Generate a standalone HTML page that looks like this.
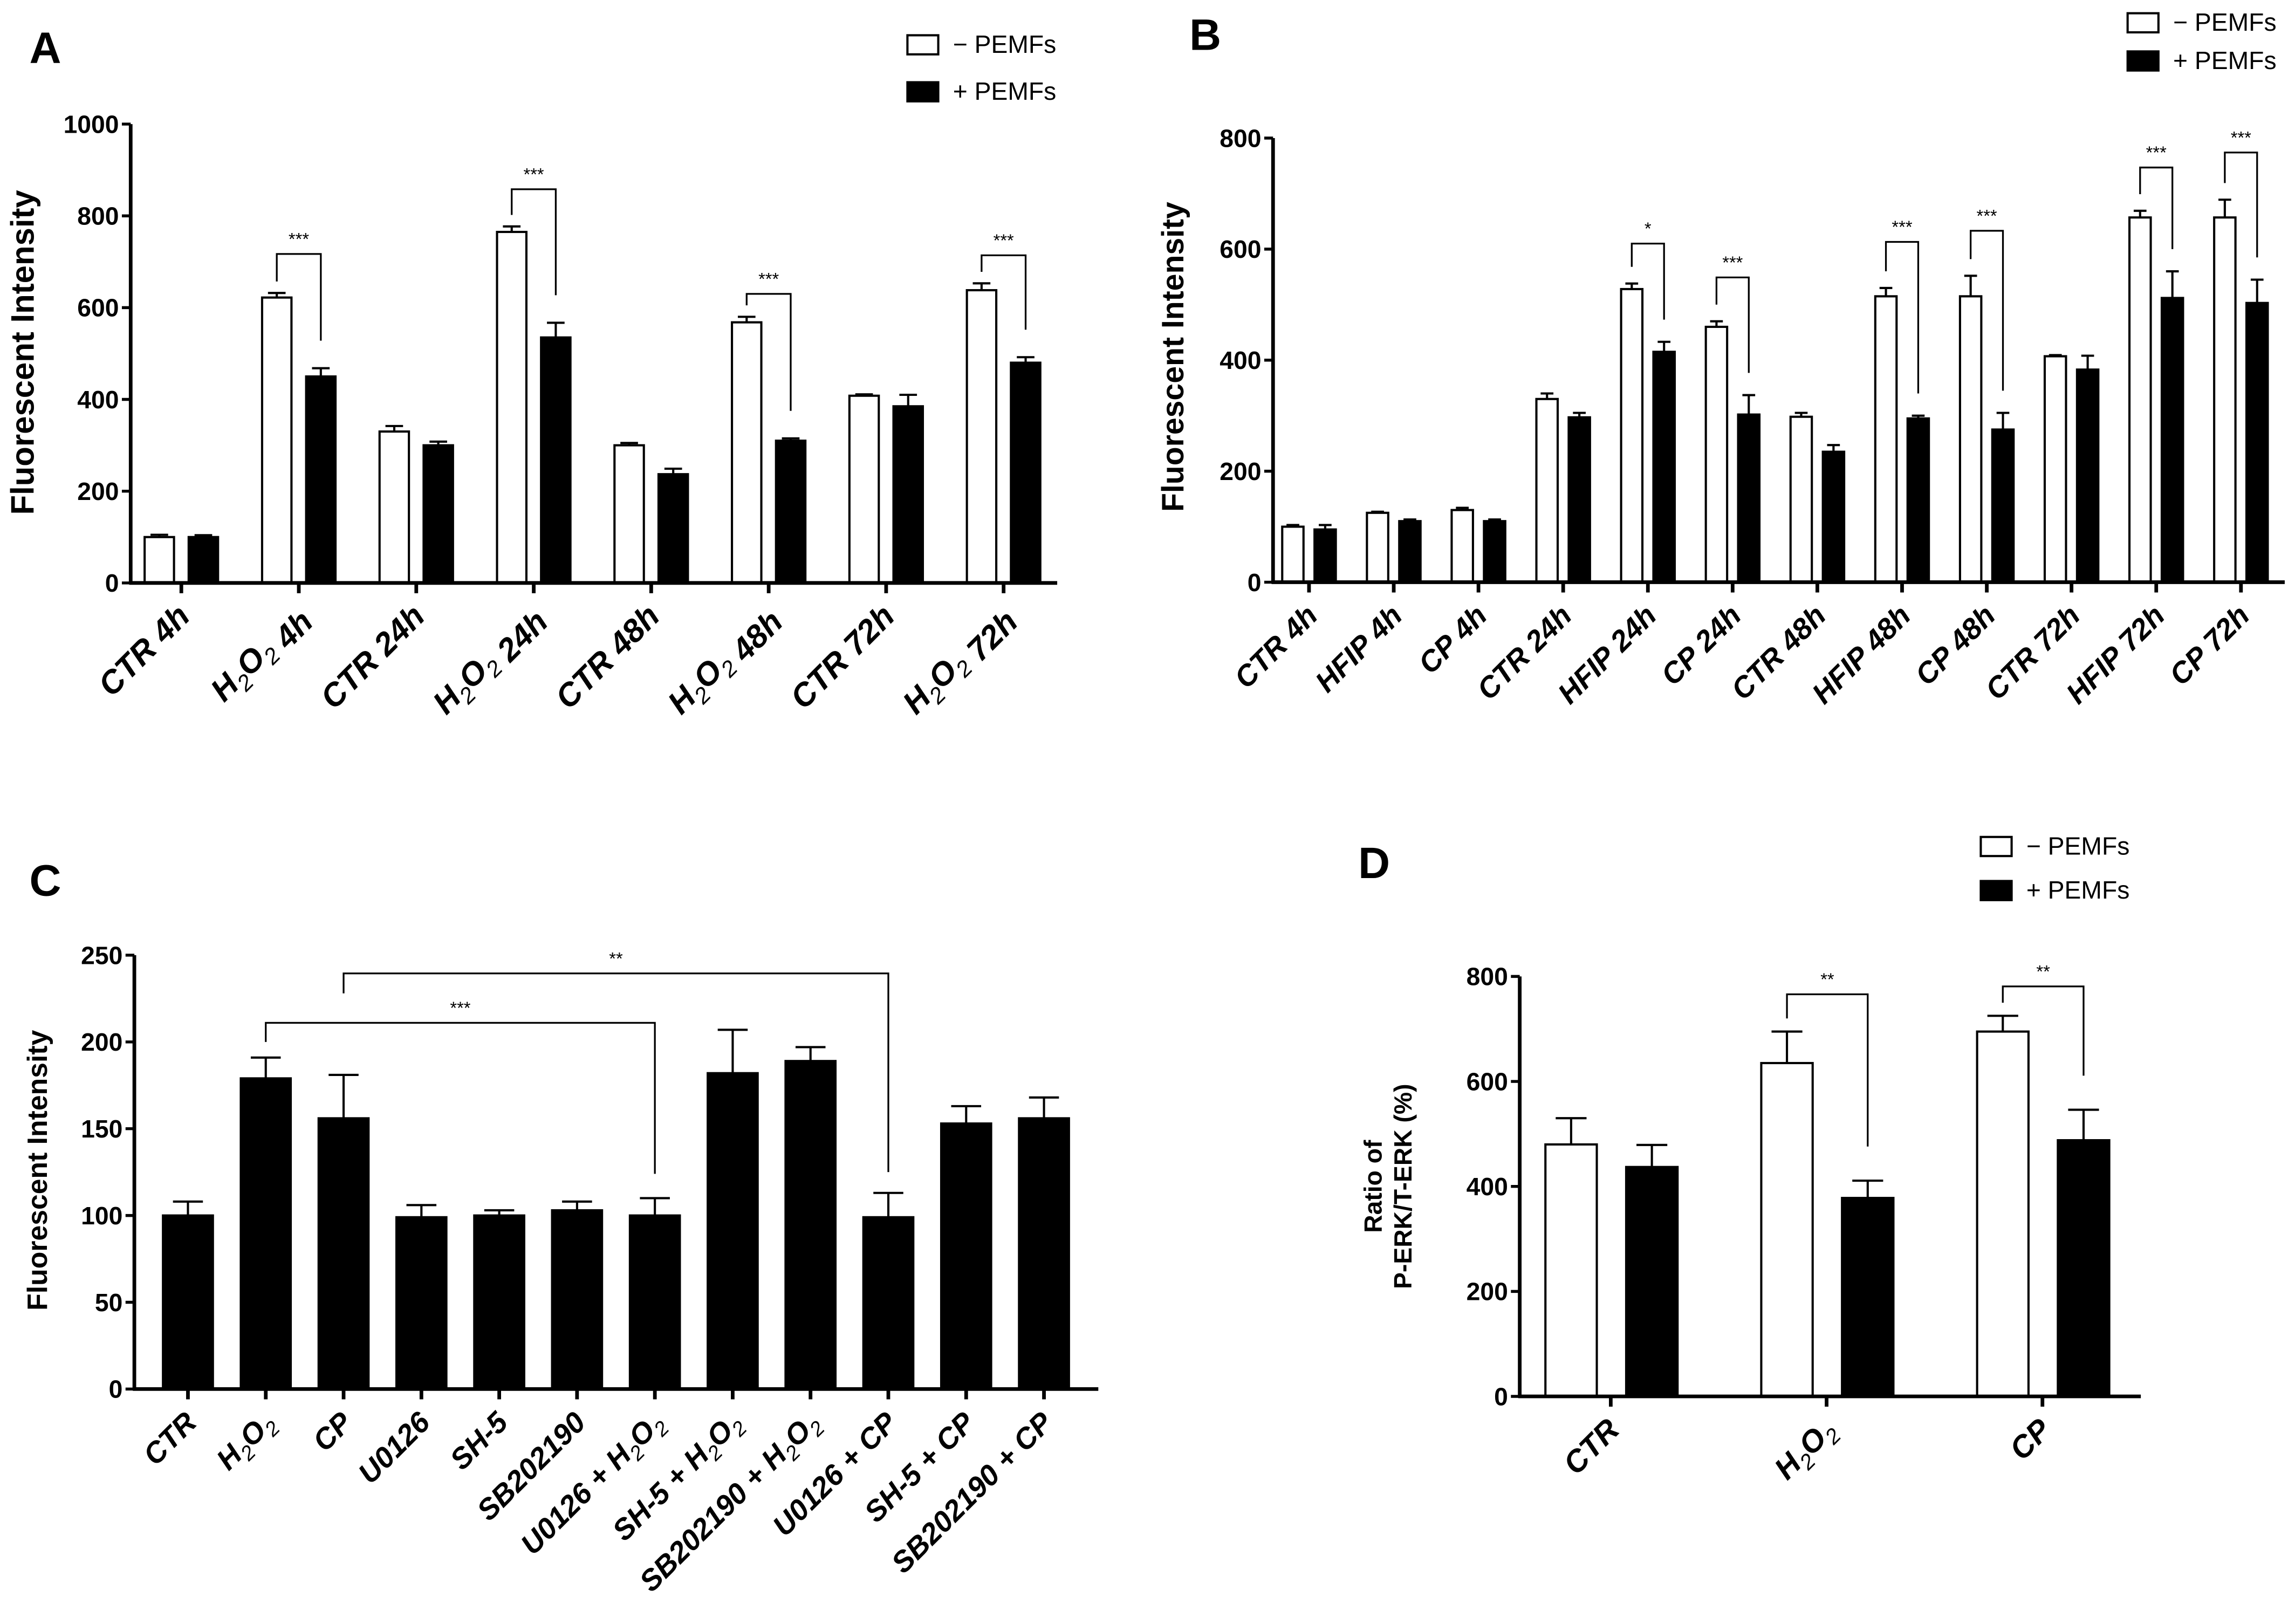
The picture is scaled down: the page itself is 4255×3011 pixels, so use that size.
<!DOCTYPE html>
<html><head><meta charset="utf-8"><style>
html,body{margin:0;padding:0;background:#fff;}
svg{display:block;font-family:"Liberation Sans",sans-serif;}
</style></head><body>
<svg id="fig" width="4255" height="3011" viewBox="0 0 1563 1106" xmlns="http://www.w3.org/2000/svg"></svg>
<script>
// Panel A data
const aCats = ["CTR 4h","H2O2 4h","CTR 24h","H2O2 24h","CTR 48h","H2O2 48h","CTR 72h","H2O2 72h"];
const aWhite = [100,622,330,765,300,568,408,638];
const aWhiteErr = [5,10,12,12,5,12,3,15];
const aBlack = [100,450,300,535,237,310,385,480];
const aBlackErr = [4,18,8,32,12,5,25,12];
const aTicks = [0,200,400,600,800,1000];
const aSigIdx = [1,3,5,7];
const aSigTop = [717,858,630,714];
const aSigLabel = ["***","***","***","***"];
// Panel B data
const bCats = ["CTR 4h","HFIP 4h","CP 4h","CTR 24h","HFIP 24h","CP 24h","CTR 48h","HFIP 48h","CP 48h","CTR 72h","HFIP 72h","CP 72h"];
const bWhite = [100,125,130,330,528,460,298,515,515,407,657,657];
const bWhiteErr = [3,2,4,10,10,10,7,15,37,2,12,32];
const bBlack = [95,110,110,297,415,302,235,295,275,383,512,503];
const bBlackErr = [8,3,3,8,18,35,12,5,30,25,48,42];
const bTicks = [0,200,400,600,800];
const bSigIdx = [4,5,7,8,10,11];
const bSigTop = [610,549,613,633,747,774];
const bSigLabel = ["*","***","***","***","***","***"];
// Panel C data
const cCats = ["CTR","H2O2","CP","U0126","SH-5","SB202190","U0126 + H2O2","SH-5 + H2O2","SB202190 + H2O2","U0126 + CP","SH-5 + CP","SB202190 + CP"];
const cVals = [100,179,156,99,100,103,100,182,189,99,153,156];
const cErr = [8,12,25,7,3,5,10,25,8,14,10,12];
const cTicks = [0,50,100,150,200,250];
const cSigFrom = [1,2];
const cSigTo = [6,9];
const cSigTop = [211,239.5];
const cSigLeftEnd = [200,228];
const cSigRightEnd = [124,125];
const cSigLabel = ["***","**"];
// Panel D data
const dCats = ["CTR","H2O2","CP"];
const dWhite = [480,635,695];
const dWhiteErr = [50,60,30];
const dBlack = [437,378,488];
const dBlackErr = [42,33,58];
const dTicks = [0,200,400,600,800];
const dSigIdx = [1,2];
const dSigTop = [766,781];
const dSigLabel = ["**","**"];

const NS="http://www.w3.org/2000/svg";
const svg=document.getElementById('fig');
function mk(tag,attrs,parent){const e=document.createElementNS(NS,tag);for(const k in attrs)e.setAttribute(k,attrs[k]);(parent||svg).appendChild(e);return e;}

function labelText(parent,x,y,str,size,anchor,rot,style){
  const t=mk('text',{x:x,y:y,'font-size':size,'font-weight':'bold','text-anchor':anchor||'end'},parent);
  if(style)t.setAttribute('font-style',style);
  if(rot)t.setAttribute('transform','rotate('+rot+' '+x+' '+y+')');
  const parts=str.split('H2O2');
  const d=size*0.25;
  parts.forEach((p,i)=>{
    if(p){const s=mk('tspan',{},t);s.textContent=p;}
    if(i<parts.length-1){
      let s=mk('tspan',{},t);s.textContent='H';
      s=mk('tspan',{dy:d,'font-size':size*0.7,'font-weight':'normal'},t);s.textContent='2';
      s=mk('tspan',{dy:-d},t);s.textContent='O';
      s=mk('tspan',{dy:d,'font-size':size*0.7,'font-weight':'normal'},t);s.textContent='2';
      s=mk('tspan',{dy:-d},t);s.textContent='';
    }
  });
  return t;
}

function axes(g,P,ticks,cats,pos){
  const ya=mk('line',{x1:P.x0,y1:P.y(ticks[ticks.length-1]),x2:P.x0,y2:P.y(0)+1,stroke:'#000','stroke-width':2.5},g);
  
  const xa=mk('line',{x1:P.x0-1,y1:P.y(0),x2:P.x1,y2:P.y(0),stroke:'#000','stroke-width':2.5},g);
  
  ticks.forEach(v=>{
    mk('line',{x1:P.x0-6,y1:P.y(v),x2:P.x0,y2:P.y(v),stroke:'#000','stroke-width':2},g);
    const t=mk('text',{x:P.x0-8,y:P.y(v)+6,'font-size':17,'font-weight':'bold','text-anchor':'end'},g);
    
    t.textContent=v;
  });
  cats.forEach((c,i)=>{
    const x=pos(i);
    mk('line',{x1:x,y1:P.y(0),x2:x,y2:P.y(0)+7,stroke:'#000','stroke-width':2.5},g);
    const t=labelText(g,x+7,P.y(0)+24,c,P.fs||17,'end',-45,'italic');
    
  });
}
function bar(g,x,w,P,v,err,fill,name){
  const r=mk('rect',{x:x-w/2,y:P.y(v),width:w,height:P.y(0)-P.y(v),fill:fill,stroke:'#000','stroke-width':1.5},g);
  
  mk('line',{x1:x,y1:P.y(v),x2:x,y2:P.y(v+err),stroke:'#000','stroke-width':1.5},g);
  mk('line',{x1:x-w*0.3,y1:P.y(v+err),x2:x+w*0.3,y2:P.y(v+err),stroke:'#000','stroke-width':1.5},g);
}
function bracket(g,xl,xr,yt,yl,yr,lab,fs){
  const p=mk('path',{d:`M${xl},${yl}V${yt}H${xr}V${yr}`,fill:'none',stroke:'#000','stroke-width':1.2},g);
  
  const t=mk('text',{x:(xl+xr)/2,y:yt-6,'font-size':fs||12,'text-anchor':'middle'},g);
  
  t.textContent=lab;
}
function panelLetter(g,x,y,s){const t=mk('text',{x:x,y:y,'font-size':30,'font-weight':'bold'},g);t.textContent=s;}
function legend(g,x,y1,y2,h){
  const items=[['#fff','− PEMFs',y1],['#000','+ PEMFs',y2]];
  items.forEach(it=>{
    const r=mk('rect',{x:x,y:it[2],width:21,height:h,fill:it[0],stroke:'#000','stroke-width':1.5},g);
    
    const t=mk('text',{x:x+31,y:it[2]+h-1,'font-size':17},g);
    
    t.textContent=it[1];
  });
}
function yTitle(g,x,y,lines,fs){
  const t=mk('text',{x:x,y:y,'font-size':fs,'font-weight':'bold','text-anchor':'middle',transform:`rotate(-90 ${x} ${y})`},g);
  
  lines.forEach((l,i)=>{const s=mk('tspan',{x:x,dy:i?fs*1.2:0},t);s.textContent=l;});
}

// Panel A
(function(){
  const g=mk('g',{});
  const P={x0:89,x1:720,y:v=>397-v*0.3125,fs:22};
  const pos=i=>123.5+80*i;
  panelLetter(g,20,43,'A');legend(g,618,24,56,13);
  yTitle(g,23,240,['Fluorescent Intensity'],22);
  aCats.forEach((c,i)=>{
    bar(g,pos(i)-15,20,P,aWhite[i],aWhiteErr[i],'#fff','bar-minus-pemfs');
    bar(g,pos(i)+15,20,P,aBlack[i],aBlackErr[i],'#000','bar-plus-pemfs');
  });
  axes(g,P,aTicks,aCats,pos);
  aSigIdx.forEach((k,j)=>{
    bracket(g,pos(k)-15,pos(k)+15,P.y(aSigTop[j]),P.y(aWhite[k]+aWhiteErr[k]+25),P.y(aBlack[k]+aBlackErr[k]+60),aSigLabel[j]);
  });
})();
// Panel B
(function(){
  const g=mk('g',{});
  const P={x0:867,x1:1556,y:v=>396.5-v*0.3781,fs:20};
  const pos=i=>891.5+57.7*i;
  panelLetter(g,810,34,'B');legend(g,1449,9,35,13);
  yTitle(g,806,243,['Fluorescent Intensity'],21);
  bCats.forEach((c,i)=>{
    bar(g,pos(i)-11,14.5,P,bWhite[i],bWhiteErr[i],'#fff','bar-minus-pemfs');
    bar(g,pos(i)+11,14.5,P,bBlack[i],bBlackErr[i],'#000','bar-plus-pemfs');
  });
  axes(g,P,bTicks,bCats,pos);
  bSigIdx.forEach((k,j)=>{
    bracket(g,pos(k)-11,pos(k)+11,P.y(bSigTop[j]),P.y(bWhite[k]+bWhiteErr[k]+30),P.y(bBlack[k]+bBlackErr[k]+40),bSigLabel[j]);
  });
})();
// Panel C
(function(){
  const g=mk('g',{});
  const P={x0:91.5,x1:748,y:v=>946-v*1.182,fs:20};
  const pos=i=>128+53*i;
  panelLetter(g,20,610,'C');
  yTitle(g,32,797,['Fluorescent Intensity'],19);
  cCats.forEach((c,i)=>bar(g,pos(i),34,P,cVals[i],cErr[i],'#000','bar-'+i));
  axes(g,P,cTicks,cCats,pos);
  cSigFrom.forEach((f,j)=>{
    bracket(g,pos(f),pos(cSigTo[j]),P.y(cSigTop[j]),P.y(cSigLeftEnd[j]),P.y(cSigRightEnd[j]),cSigLabel[j]);
  });
})();
// Panel D
(function(){
  const g=mk('g',{});
  const P={x0:1035,x1:1458,y:v=>951-v*0.3575,fs:21};
  const pos=i=>1097+147*i;
  panelLetter(g,925,598,'D');legend(g,1349,570,600,13);
  yTitle(g,941,808,['Ratio of','P-ERK/T-ERK (%)'],17);
  dCats.forEach((c,i)=>{
    bar(g,pos(i)-27,35,P,dWhite[i],dWhiteErr[i],'#fff','bar-minus-pemfs');
    bar(g,pos(i)+28,35,P,dBlack[i],dBlackErr[i],'#000','bar-plus-pemfs');
  });
  axes(g,P,dTicks,dCats,pos);
  dSigIdx.forEach((k,j)=>{
    bracket(g,pos(k)-27,pos(k)+28,P.y(dSigTop[j]),P.y(dWhite[k]+dWhiteErr[k]+25),P.y(dBlack[k]+dBlackErr[k]+65),dSigLabel[j]);
  });
})();
</script>
</body></html>
